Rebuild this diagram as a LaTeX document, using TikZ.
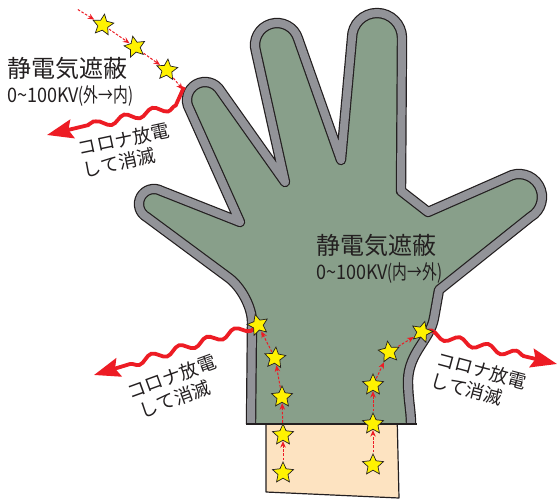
\documentclass[tikz,border=0pt]{standalone}
\usepackage{fontspec}
\newfontfamily\jpfont{Noto Sans CJK JP}
\usetikzlibrary{shapes.geometric,decorations.pathmorphing,arrows.meta}

\definecolor{glovegreen}{RGB}{136,159,138}
\definecolor{bandgray}{RGB}{146,147,152}
\definecolor{cuffskin}{RGB}{253,227,193}
\definecolor{staryellow}{RGB}{255,242,0}
\definecolor{sparkred}{RGB}{237,28,36}
\definecolor{inkline}{RGB}{35,31,32}

% centre line of the grey rim of the glove, from the left cuff edge round to the right one;
% finger tips are half circles built from two quarter-circle Bezier arcs
\def\gloveoutline{(251,424) -- (252,322)
  .. controls (252,307) and (241,287) .. (229,278)
  -- (146.81,217.16)
  .. controls (139.55,213.19) and (136.87,204.07) .. (140.84,196.81)
  .. controls (144.81,189.55) and (153.93,186.88) .. (161.19,190.85)
  -- (240,222)
  -- (189.41,109)
  .. controls (184.44,100.39) and (187.39,89.38) .. (196,84.41)
  .. controls (204.61,79.44) and (215.62,82.39) .. (220.59,91)
  -- (285,182)
  -- (255.95,51.38)
  .. controls (252.43,39.75) and (258.99,27.47) .. (270.62,23.95)
  .. controls (282.25,20.43) and (294.53,26.99) .. (298.05,38.62)
  -- (341,160)
  -- (352,38)
  .. controls (352,24.19) and (363.19,13) .. (377,13)
  .. controls (390.81,13) and (402,24.19) .. (402,38)
  -- (401,191) -- (428,212)
  -- (507.52,177.06)
  .. controls (518.53,170.72) and (532.60,174.51) .. (538.94,185.52)
  .. controls (545.28,196.53) and (541.49,210.60) .. (530.48,216.94)
  -- (439,290) -- (434,318)
  .. controls (430,340) and (409,352) .. (408,380)
  .. controls (408,400) and (411,410) .. (411,424)}

\tikzset{
  sparkstar/.style={star, star points=5, star point ratio=2.1, minimum size=22pt,
    inner sep=0pt, fill=staryellow, draw=inkline, line width=0.7pt},
  dasharrow/.style={draw=sparkred, line width=1pt, dash pattern=on 2.6pt off 1.6pt,
    -{Stealth[length=6.5pt,width=5.5pt]}, shorten <=1pt, shorten >=0.5pt},
  sparkwave/.style={draw=sparkred, line width=3.8pt, decorate,
    decoration={snake, amplitude=3.6pt, segment length=29pt, post length=28pt},
    -{Stealth[length=26pt,width=19pt,inset=4pt]}},
  titletext/.style={font=\jpfont\fontsize{24pt}{26pt}\selectfont, text=inkline, inner sep=0pt},
  subtext/.style={font=\jpfont\fontsize{20pt}{22pt}\selectfont, text=inkline, inner sep=0pt},
  coronatext/.style={font=\jpfont\fontsize{18.5pt}{22pt}\selectfont, text=inkline,
    inner sep=0pt, align=left},
}

\begin{document}
\begin{tikzpicture}[x=1pt,y=-1pt]
\useasboundingbox (0,0) rectangle (558,501);
\fill[white] (0,0) rectangle (558,501);

% cuff
\draw[fill=cuffskin, draw=inkline, line width=1.2pt, line join=round]
  (266,412) -- (266,492) -- (399,498) -- (397,412);

% glove body and rim
\fill[glovegreen] \gloveoutline -- cycle;
\draw[inkline, line width=10.4pt, line join=round] \gloveoutline;
\draw[bandgray, line width=8pt, line join=round] \gloveoutline;
\draw[inkline, line width=1.3pt] (245.5,424) -- (416.5,424);

% star positions
\coordinate (pS1) at (103,25);
\coordinate (pS2) at (135,47);
\coordinate (pS3) at (167,70);
\coordinate (pL1) at (258,325);
\coordinate (pL2) at (275,358);
\coordinate (pL3) at (282,397);
\coordinate (pL4) at (283,435);
\coordinate (pL5) at (283,473);
\coordinate (pR1) at (422,332);
\coordinate (pR2) at (389,352);
\coordinate (pR3) at (373,385);
\coordinate (pR4) at (373,424);
\coordinate (pR5) at (373,465);

% discharge waves
\coordinate (w1a) at (184,87);
\coordinate (w1h) at (168,106);
\coordinate (w1b) at (47,135);
\draw[sparkwave, decoration={pre length=22pt}]
  (w1a) .. controls (185,101) and (180,107) .. (w1h) -- (w1b);
\coordinate (w2b) at (94,375);
\draw[sparkwave] (pL1) -- (w2b);
\coordinate (w3b) at (557,364);
\draw[sparkwave] (pR1) -- (w3b);

% charge paths
\coordinate (d0) at (77,9);
\coordinate (d4) at (183,90);
\node[sparkstar, rotate=-8] (S1) at (pS1) {};
\node[sparkstar, rotate=12] (S2) at (pS2) {};
\node[sparkstar, rotate=-5] (S3) at (pS3) {};
\node[sparkstar, rotate=15] (L1) at (pL1) {};
\node[sparkstar, rotate=-5] (L2) at (pL2) {};
\node[sparkstar] (L3) at (pL3) {};
\node[sparkstar] (L4) at (pL4) {};
\node[sparkstar] (L5) at (pL5) {};
\node[sparkstar, rotate=-15] (R1) at (pR1) {};
\node[sparkstar, rotate=8] (R2) at (pR2) {};
\node[sparkstar] (R3) at (pR3) {};
\node[sparkstar] (R4) at (pR4) {};
\node[sparkstar] (R5) at (pR5) {};

\draw[dasharrow] (d0) -- (S1);
\draw[dasharrow] (S1) -- (S2);
\draw[dasharrow] (S2) -- (S3);
\draw[dasharrow] (S3) -- (d4);
\draw[dasharrow] (L5) -- (L4);
\draw[dasharrow] (L4) -- (L3);
\draw[dasharrow] (L3) -- (L2);
\draw[dasharrow] (L2) -- (L1);
\draw[dasharrow] (R5) -- (R4);
\draw[dasharrow] (R4) -- (R3);
\draw[dasharrow] (R3) -- (R2);
\draw[dasharrow] (R2) -- (R1);

% labels
\node[titletext, anchor=west] (tOut) at (7,68) {静電気遮蔽};
\node[subtext, anchor=west] (vOut) at (7,96)
  {\scalebox{0.9}[1]{0\textasciitilde100KV}\scalebox{0.74}[1]{(外→内)}};
\node[titletext, anchor=west] (tIn) at (316,245) {静電気遮蔽};
\node[subtext, anchor=west] (vIn) at (316,273.5)
  {\scalebox{0.9}[1]{0\textasciitilde100KV}\scalebox{0.74}[1]{(内→外)}};

\node[coronatext, rotate=12] (cA) at (126,150) {コロナ放電\\して消滅};
\node[coronatext, rotate=20] (cB) at (175.4,387) {コロナ放電\\\hspace*{5pt}して消滅};
\node[coronatext, rotate=-15] (cC) at (479,381) {コロナ放電\\して消滅};
\end{tikzpicture}
\end{document}
